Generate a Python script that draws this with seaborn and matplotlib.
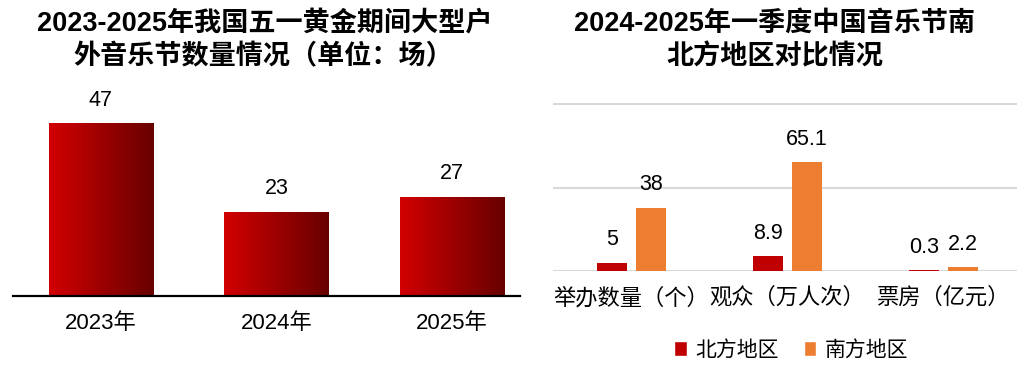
import numpy as np
import pandas as pd
import seaborn as sns
import matplotlib.pyplot as plt
from matplotlib.colors import LinearSegmentedColormap
from matplotlib.patches import Patch

sns.set_style('white')
plt.rcParams['font.family'] = ['Liberation Sans', 'Noto Sans CJK SC', 'DejaVu Sans']
plt.rcParams['text.color'] = 'black'
plt.rcParams['xtick.color'] = 'black'

# data
years = ['2023年', '2024年', '2025年']
festival_counts = [47, 23, 27]

metrics = ['举办数量（个）', '观众（万人次）', '票房（亿元）']
regions = ['北方地区', '南方地区']
north_values = [5, 8.9, 0.3]
south_values = [38, 65.1, 2.2]
region_colors = ['#C00000', '#ED7D31']

df_left = pd.DataFrame({'year': years, 'count': festival_counts})
df_right = pd.DataFrame({
    'metric': metrics * 2,
    'region': [regions[0]] * 3 + [regions[1]] * 3,
    'value': north_values + south_values,
})

fig = plt.figure(figsize=(10.17, 3.69), dpi=100)

# left panel: bars with a horizontal red gradient
ax1 = fig.add_axes([0.0128, 0.198, 0.4985, 0.547])
sns.barplot(data=df_left, x='year', y='count', color='#B00000', saturation=1,
            width=0.593, linewidth=0, ax=ax1)

red_grad = LinearSegmentedColormap.from_list('redgrad', ['#D20000', '#680000'])
grad = np.linspace(0, 1, 256).reshape(1, -1)
for bar in ax1.patches:
    x0, y0 = bar.get_x(), bar.get_y()
    w, h = bar.get_width(), bar.get_height()
    im = ax1.imshow(grad, cmap=red_grad, aspect='auto',
                    extent=[x0, x0 + w, y0, y0 + h], zorder=3)
    im.set_clip_path(bar)
ax1.set_xlim(-0.501, 2.387)
ax1.set_ylim(0, 55)

for c in ax1.containers:
    ax1.bar_label(c, fmt='%g', padding=9, fontsize=15.5, color='black')

for s in ['top', 'right', 'left']:
    ax1.spines[s].set_visible(False)
ax1.spines['bottom'].set_color('black')
ax1.spines['bottom'].set_linewidth(1.6)
ax1.spines['bottom'].set_zorder(4)
ax1.set_yticks([])
ax1.set_xlabel('')
ax1.set_ylabel('')
ax1.tick_params(axis='x', length=0, pad=12, labelsize=16, labelcolor='black')

fig.text(265 / 1017, 1 - 24 / 369, '2023-2025年我国五一黄金期间大型户',
         ha='center', va='center', fontsize=19.5, fontweight='bold')
fig.text(263 / 1017, 1 - 57 / 369, '外音乐节数量情况（单位：场）',
         ha='center', va='center', fontsize=19.5, fontweight='bold')

# right panel: grouped bars
ax2 = fig.add_axes([0.5438, 0.2656, 0.4562, 0.4566])
sns.barplot(data=df_right, x='metric', y='value', hue='region',
            palette=region_colors, saturation=1, width=0.5, gap=0.24,
            linewidth=0, legend=False, ax=ax2)
ax2.set_xlim(-0.503, 2.47)
ax2.set_ylim(0, 101)
ax2.set_yticks([0, 50, 100])
ax2.yaxis.grid(True, color='#D9D9D9', linewidth=1.5)
ax2.set_axisbelow(True)
ax2.set_yticklabels([])
for s in ['top', 'right', 'left', 'bottom']:
    ax2.spines[s].set_visible(False)
ax2.set_xlabel('')
ax2.set_ylabel('')
ax2.tick_params(axis='both', length=0)
ax2.tick_params(axis='x', pad=12, labelsize=16, labelcolor='black')

for c in ax2.containers:
    ax2.bar_label(c, fmt='%g', padding=9, fontsize=15.5, color='black')

fig.text(775 / 1017, 1 - 24 / 369, '2024-2025年一季度中国音乐节南',
         ha='center', va='center', fontsize=19.5, fontweight='bold')
fig.text(775 / 1017, 1 - 57 / 369, '北方地区对比情况',
         ha='center', va='center', fontsize=19.5, fontweight='bold')

handles = [Patch(facecolor=region_colors[i], label=regions[i]) for i in range(2)]
fig.legend(handles=handles, loc='center', bbox_to_anchor=(791 / 1017, 19 / 369),
           ncol=2, frameon=False, fontsize=15, handlelength=0.6, handleheight=0.75,
           handletextpad=0.4, columnspacing=1.2)

fig.savefig('out.png', dpi=100)
